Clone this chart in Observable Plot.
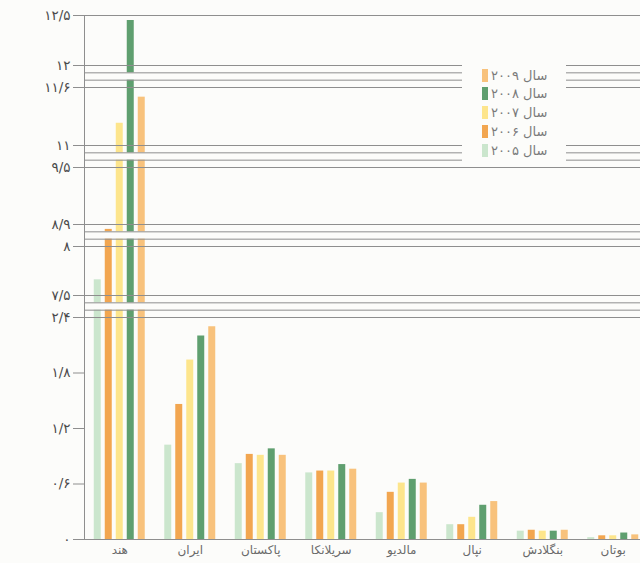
<!DOCTYPE html>
<html>
<head>
<meta charset="utf-8">
<script src="https://cdn.jsdelivr.net/npm/d3@7"></script>
<script src="https://cdn.jsdelivr.net/npm/@observablehq/plot@0.6"></script>
<style>
  html, body { margin: 0; padding: 0; background: #fcfcfa; overflow: hidden; width: 640px; height: 563px; }
  #wrap { position: relative; width: 640px; height: 563px; overflow: hidden; font-family: "DejaVu Sans", sans-serif; }
  #chart svg { max-width: none !important; height: 563px !important; display: block; }
  #legend { position: absolute; left: 462px; top: 62px; width: 104px; height: 104px; background: #fcfcfa; }
  .row { position: absolute; left: 20px; height: 14px; display: flex; align-items: center; }
  .sw { width: 6px; height: 13px; margin-right: 3px; }
  .lab { font-size: 13px; color: #7a7a7a; direction: rtl; white-space: nowrap; }
</style>
</head>
<body>
<div id="wrap"><div id="chart"></div><div id="legend"></div></div>
<script>
// categories
const countries = ["هند", "ایران", "پاکستان", "سریلانکا", "مالدیو", "نپال", "بنگلادش", "بوتان"];
const years = ["2005", "2006", "2007", "2008", "2009"];
// series values
const v2005 = [7.66, 1.02, 0.82, 0.72, 0.29, 0.16, 0.09, 0.02];
const v2006 = [8.7, 1.46, 0.92, 0.74, 0.51, 0.16, 0.10, 0.04];
const v2007 = [11.23, 1.94, 0.91, 0.74, 0.61, 0.24, 0.09, 0.04];
const v2008 = [12.45, 2.2, 0.98, 0.81, 0.65, 0.37, 0.09, 0.07];
const v2009 = [11.5, 2.3, 0.91, 0.76, 0.61, 0.41, 0.10, 0.05];
// axis (broken) tick values
const yTicks = [0, 0.6, 1.2, 1.8, 2.4, 7.5, 8, 8.9, 9.5, 11, 11.6, 12, 12.5];
const gridTicks = [2.4, 7.5, 8, 8.9, 9.5, 11, 11.6, 12, 12.5];
const breaks = [[2.4, 7.5], [8, 8.9], [9.5, 11], [11.6, 12]];
const legendLabels = ["سال ۲۰۰۵", "سال ۲۰۰۶", "سال ۲۰۰۷", "سال ۲۰۰۸", "سال ۲۰۰۹"];

const colors = ["#cbe6cd", "#f2a650", "#fde58c", "#5f9f6f", "#f8c27c"];
const series = [v2005, v2006, v2007, v2008, v2009];
const bg = "#fcfcfa";
const lineColor = "#8e8e8e";

const rows = [];
series.forEach((vals, i) => vals.forEach((v, j) => rows.push({country: countries[j], year: years[i], value: v})));

const fa = n => String(n).replace(/\d/g, d => "۰۱۲۳۴۵۶۷۸۹"[d]).replace(".", "/");

const W = 648, H = 563, mL = 84, mT = 15, mB = 24;
const band = (W - mL) / countries.length;
const barW = 7, barStep = 11;
const off0 = (band - (barStep * (years.length - 1) + barW)) / 2;

const breakLines = [];
const gaps = [];
breaks.forEach(([lo, hi]) => {
  const a = lo + (hi - lo) / 3, b = lo + 2 * (hi - lo) / 3;
  breakLines.push(a, b);
  gaps.push({y1: a, y2: b});
});

const barMarks = years.map((yr, i) => Plot.barY(rows.filter(d => d.year === yr), {
  x: "country", y: "value", fill: colors[i],
  insetLeft: off0 + barStep * i,
  insetRight: band - off0 - barStep * i - barW
}));

const chart = Plot.plot({
  width: W, height: H,
  marginLeft: mL, marginRight: 0, marginTop: mT, marginBottom: mB,
  style: {background: bg, fontFamily: "DejaVu Sans, sans-serif", overflow: "visible"},
  x: {type: "band", domain: countries, padding: 0, round: false, label: null},
  y: {
    type: "linear",
    domain: [0, 2.4, 7.5, 8, 8.9, 9.5, 11, 11.6, 12, 12.5],
    range: [539, 317, 295, 246, 224, 167, 145, 87, 65, 15],
    label: null
  },
  marks: [
    ...barMarks,
    Plot.barY(gaps, {y1: "y1", y2: "y2", fill: bg}),
    Plot.ruleY(gridTicks, {stroke: lineColor, strokeWidth: 1}),
    Plot.ruleY(breakLines, {stroke: lineColor, strokeWidth: 1}),
    Plot.ruleY([0], {stroke: lineColor, strokeWidth: 1}),
    Plot.frame({stroke: lineColor, strokeWidth: 1}),
    Plot.axisY({ticks: yTicks, tickSize: 11, tickPadding: 3, tickFormat: fa, fontSize: 13.5, color: "#4a4a4a", stroke: lineColor, label: null}),
    Plot.axisX({tickSize: 0, tickPadding: 6, fontSize: 12, color: "#6a6a6a", label: null})
  ]
});
document.getElementById("chart").appendChild(chart);

// legend (top entry = 2009)
const leg = document.getElementById("legend");
for (let k = 0; k < years.length; k++) {
  const i = years.length - 1 - k;
  const r = document.createElement("div");
  r.className = "row";
  r.style.top = (6 + k * 18.8) + "px";
  r.innerHTML = `<span class="sw" style="background:${colors[i]}"></span><span class="lab">${legendLabels[i]}</span>`;
  leg.appendChild(r);
}
</script>
</body>
</html>
